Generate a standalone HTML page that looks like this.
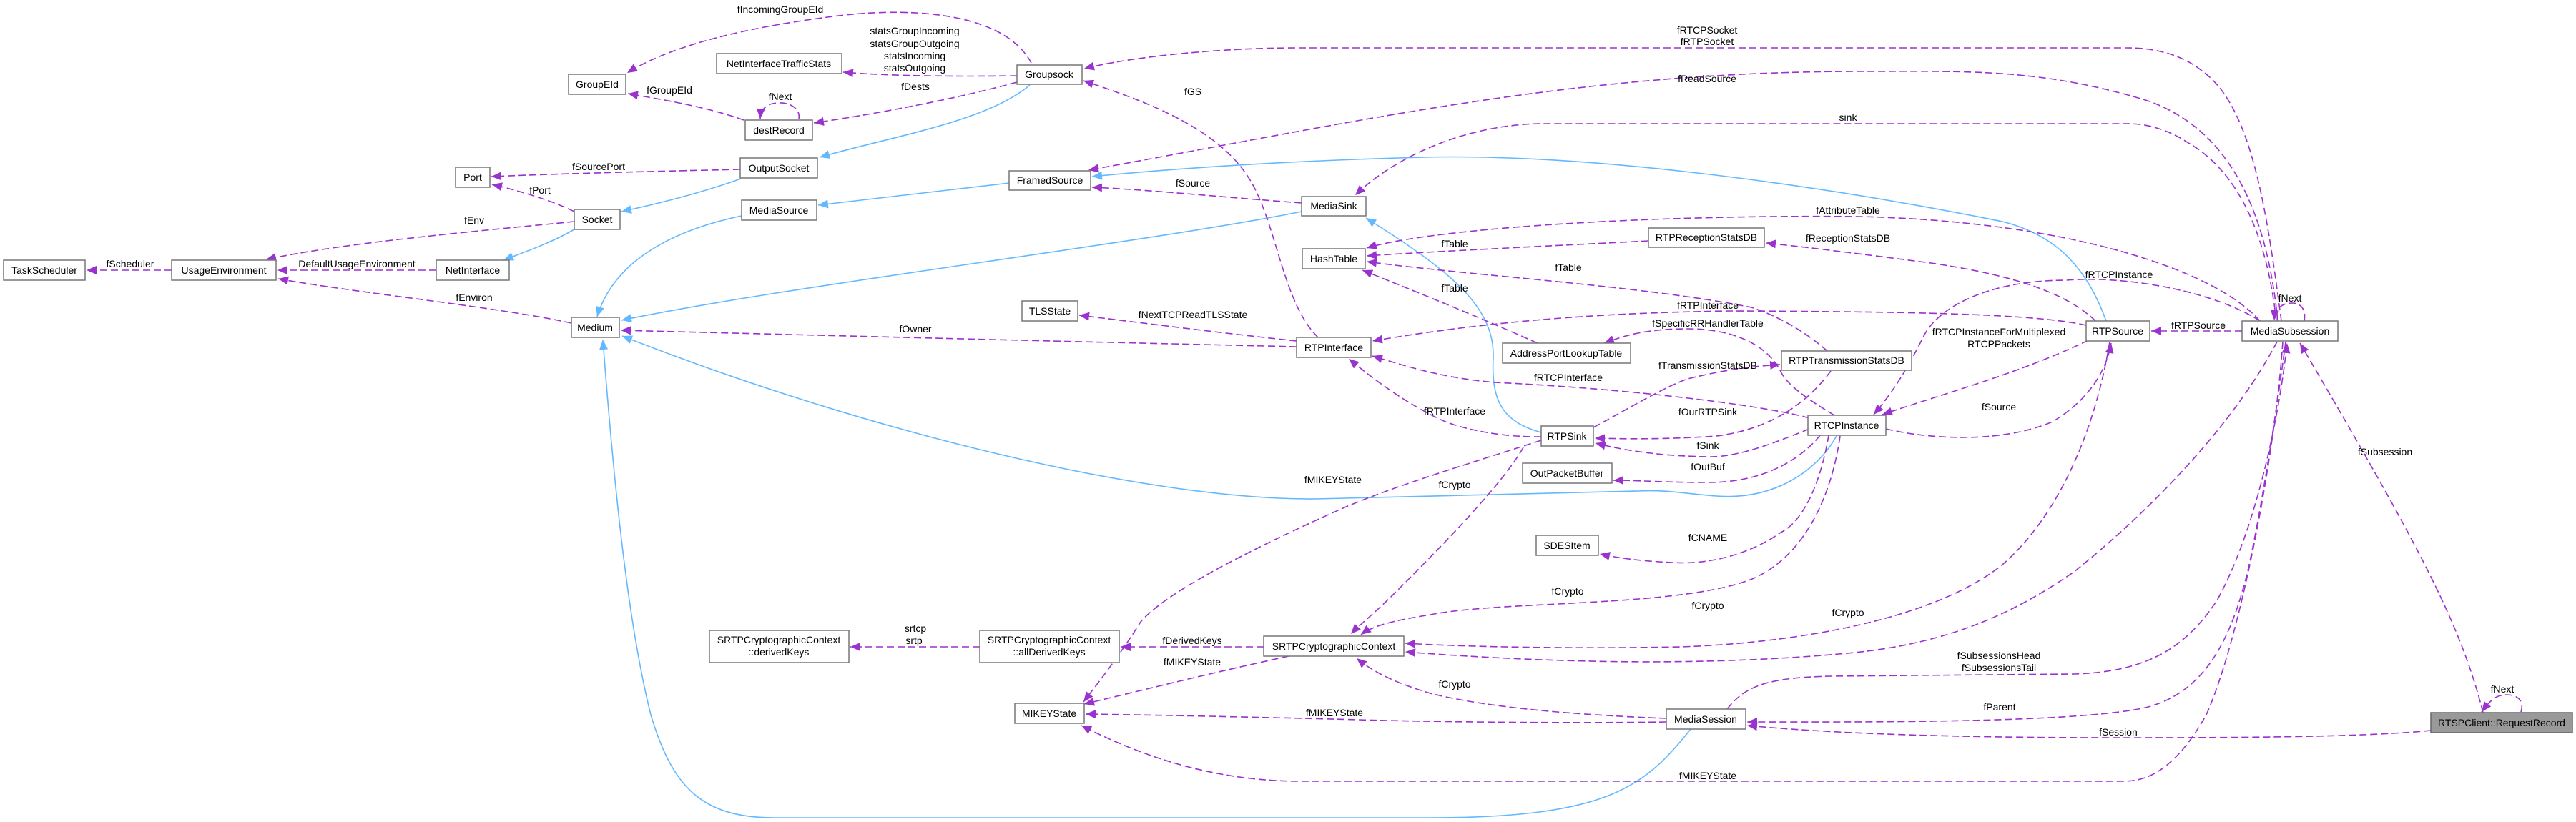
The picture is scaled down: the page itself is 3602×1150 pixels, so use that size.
<!DOCTYPE html>
<html><head><meta charset="utf-8"><style>
html,body{margin:0;padding:0;background:#fff;}
svg{display:block;}
text{font-family:"Liberation Sans",sans-serif;font-size:14px;fill:#000;}
.n{fill:#fff;stroke:#777;stroke-width:1.5;}
.d{fill:none;stroke:#9a32cd;stroke-width:1.6;stroke-dasharray:10,5;}
.b{fill:none;stroke:#63b8ff;stroke-width:1.6;}
</style></head><body>
<svg width="3602" height="1150" viewBox="0 0 3602 1150" xmlns="http://www.w3.org/2000/svg">
<defs>
<marker id="p" markerUnits="userSpaceOnUse" markerWidth="16" markerHeight="12" refX="14" refY="6" orient="auto"><path d="M0,0 L14,6 L0,12 z" fill="#9a32cd"/></marker>
<marker id="q" markerUnits="userSpaceOnUse" markerWidth="16" markerHeight="12" refX="14" refY="6" orient="auto"><path d="M0,0 L14,6 L0,12 z" fill="#63b8ff"/></marker>
</defs>

<g class="b">
<path marker-end="url(#q)" d="M1440,119 C1380,170 1250,190 1146,220"/>
<path marker-end="url(#q)" d="M1036,250 C980,270 920,285 869,296"/>
<path marker-end="url(#q)" d="M803,321 C770,340 735,352 704,364"/>
<path marker-end="url(#q)" d="M1411,256 L1144,287"/>
<path marker-end="url(#q)" d="M1037,302 C950,320 860,360 835,443"/>
<path marker-end="url(#q)" d="M1820,296 C1600,340 1100,400 869,448"/>
<path marker-end="url(#q)" d="M2155,605 C2100,590 2085,560 2088,500 C2090,430 2030,380 1910,305"/>
<path marker-end="url(#q)" d="M2945,449 C2920,380 2880,330 2800,310 C2500,250 2200,215 1990,220 C1800,225 1650,235 1527,247"/>
<path marker-end="url(#q)" d="M2568,610 C2540,660 2480,700 2400,694 C2350,690 2330,685 2290,687 L1840,698 C1600,700 1200,600 870,470"/>
<path marker-end="url(#q)" d="M2364,1020 C2300,1100 2250,1144 2000,1144 L1082,1144 C980,1144 940,1100 910,1000 C880,880 860,700 843,475"/>
</g>

<g class="d">
<path marker-end="url(#p)" d="M1442,88 C1400,10 1250,10 1150,25 C1000,45 920,75 877,102"/>
<path marker-end="url(#p)" d="M1422,106 C1350,107 1250,107 1179,101"/>
<path marker-end="url(#p)" d="M1422,115 C1330,140 1220,160 1138,172"/>
<path marker-end="url(#p)" d="M1040,168 C990,150 930,140 878,131"/>
<path marker-end="url(#p)" d="M1117,166 C1120,150 1100,143 1090,144 C1075,144 1064,150 1063,166"/>
<path marker-end="url(#p)" d="M1035,237 C900,240 780,243 687,247"/>
<path marker-end="url(#p)" d="M803,296 C770,280 730,268 688,258"/>
<path marker-end="url(#p)" d="M803,310 C650,325 480,340 372,363"/>
<path marker-end="url(#p)" d="M610,378 L388,378"/>
<path marker-end="url(#p)" d="M240,378 L121,378"/>
<path marker-end="url(#p)" d="M799,452 C700,430 500,410 389,390"/>
<path marker-end="url(#p)" d="M1820,284 C1700,275 1600,265 1527,262"/>
<path marker-end="url(#p)" d="M1843,472 C1790,420 1785,300 1740,240 C1690,170 1580,135 1515,113"/>
<path marker-end="url(#p)" d="M1813,477 C1700,465 1600,452 1509,441"/>
<path marker-end="url(#p)" d="M1813,485 C1500,478 1100,468 868,462"/>
<path marker-end="url(#p)" d="M3190,449 C3170,300 3150,150 3080,100 C3050,75 3010,67 2975,67 L1815,67 C1700,67 1580,80 1516,96"/>
<path marker-end="url(#p)" d="M3185,449 C3170,300 3120,180 3000,140 C2850,95 2750,100 2600,100 C2200,100 1900,170 1522,238"/>
<path marker-end="url(#p)" d="M3183,449 C3170,330 3130,240 3060,200 C3030,180 3000,173 2975,173 L2160,173 C2050,173 1950,220 1895,273"/>
<path marker-end="url(#p)" d="M3160,449 C3100,380 2900,310 2600,303 C2300,300 2000,320 1911,347"/>
<path marker-end="url(#p)" d="M2305,337 C2150,345 2000,352 1911,358"/>
<path marker-end="url(#p)" d="M2930,449 C2880,400 2780,380 2700,368 C2600,355 2520,345 2469,340"/>
<path marker-end="url(#p)" d="M2555,491 C2520,460 2480,440 2449,430 C2300,400 2050,385 1911,366"/>
<path marker-end="url(#p)" d="M2150,480 C2060,440 1960,400 1905,378"/>
<path marker-end="url(#p)" d="M2917,455 C2850,440 2700,436 2420,435 C2200,438 2050,455 1919,477"/>
<path marker-end="url(#p)" d="M2565,581 C2530,560 2500,540 2490,520 C2470,480 2420,460 2360,460 C2300,460 2270,470 2243,480"/>
<path marker-end="url(#p)" d="M2228,598 C2280,570 2330,540 2360,530 C2420,515 2460,512 2489,510"/>
<path marker-end="url(#p)" d="M2530,585 C2480,570 2300,545 2090,535 C2010,528 1960,510 1919,498"/>
<path marker-end="url(#p)" d="M2155,611 C2100,612 2040,600 2010,585 C1960,560 1920,530 1886,502"/>
<path marker-end="url(#p)" d="M2560,519 C2530,560 2480,600 2400,610 C2330,615 2270,614 2230,613"/>
<path marker-end="url(#p)" d="M2530,600 C2480,620 2430,640 2388,639 C2320,638 2270,630 2231,620"/>
<path marker-end="url(#p)" d="M2545,609 C2520,640 2470,675 2388,675 C2330,675 2290,672 2256,672"/>
<path marker-end="url(#p)" d="M2557,609 C2545,680 2520,730 2490,745 C2440,780 2380,790 2340,787 C2290,785 2260,780 2237,775"/>
<path marker-end="url(#p)" d="M2573,610 C2560,700 2520,780 2450,810 C2350,850 2100,840 2000,860 C1950,868 1920,875 1903,888"/>
<path marker-end="url(#p)" d="M2950,478 C2930,600 2880,720 2800,790 C2700,870 2500,900 2350,905 C2200,908 2050,905 1965,900"/>
<path marker-end="url(#p)" d="M3184,478 C3120,600 3000,720 2900,800 C2800,870 2700,905 2571,915 C2400,930 2200,930 1965,912"/>
<path marker-end="url(#p)" d="M2637,600 C2700,615 2800,620 2870,590 C2920,560 2945,520 2952,480"/>
<path marker-end="url(#p)" d="M3160,449 C3100,410 2980,385 2890,392 C2780,392 2710,430 2690,470 C2670,510 2650,545 2620,580"/>
<path marker-end="url(#p)" d="M2920,476 C2830,520 2720,550 2632,580"/>
<path marker-end="url(#p)" d="M3135,463 L3008,463"/>
<path marker-end="url(#p)" d="M3222,449 C3225,430 3215,424 3205,424 C3190,424 3181,432 3180,448"/>
<path marker-end="url(#p)" d="M3196,478 C3180,600 3160,720 3145,790 C3120,900 3080,970 3000,990 C2900,1012 2600,1010 2443,1010"/>
<path marker-end="url(#p)" d="M2415,992 C2440,960 2470,948 2560,946 L2900,943 C3010,940 3060,900 3100,840 C3150,750 3185,600 3198,480"/>
<path marker-end="url(#p)" d="M3192,478 C3180,650 3130,900 3085,1000 C3040,1080 3000,1093 2969,1093 L1820,1093 C1700,1093 1600,1060 1512,1015"/>
<path marker-end="url(#p)" d="M2330,1010 C2200,1012 2000,1010 1900,1007 C1750,1003 1600,1000 1518,999"/>
<path marker-end="url(#p)" d="M2330,1005 C2200,1000 2080,990 2000,970 C1950,955 1920,940 1897,921"/>
<path marker-end="url(#p)" d="M1767,905 L1567,905"/>
<path marker-end="url(#p)" d="M1370,905 L1189,905"/>
<path marker-end="url(#p)" d="M1802,918 C1700,940 1600,965 1516,985"/>
<path marker-end="url(#p)" d="M2155,616 C2050,650 1950,680 1880,710 C1700,790 1620,840 1595,870 C1570,910 1540,950 1515,982"/>
<path marker-end="url(#p)" d="M2130,626 C2100,680 2000,780 1950,830 C1920,860 1900,875 1889,887"/>
<path marker-end="url(#p)" d="M3472,997 C3440,870 3380,760 3216,480"/>
<path marker-end="url(#p)" d="M3525,996 C3530,980 3520,972 3505,972 C3490,972 3482,980 3470,996"/>
<path marker-end="url(#p)" d="M3399,1022 C3300,1032 3100,1032 2960,1032 C2700,1032 2550,1025 2443,1015"/>
</g>

<g>
<rect class="n" x="795" y="104" width="80" height="28"/>
<rect class="n" x="637" y="234" width="48" height="28"/>
<rect class="n" x="803" y="293" width="64" height="28"/>
<rect class="n" x="5" y="364" width="114" height="28"/>
<rect class="n" x="240" y="364" width="146" height="28"/>
<rect class="n" x="610" y="364" width="102" height="28"/>
<rect class="n" x="1002" y="75" width="175" height="28"/>
<rect class="n" x="1422" y="91" width="91" height="27"/>
<rect class="n" x="1042" y="168" width="94" height="28"/>
<rect class="n" x="1035" y="221" width="108" height="28"/>
<rect class="n" x="1411" y="239" width="114" height="27"/>
<rect class="n" x="1037" y="280" width="105" height="28"/>
<rect class="n" x="799" y="444" width="67" height="28"/>
<rect class="n" x="1429" y="421" width="78" height="28"/>
<rect class="n" x="1813" y="472" width="104" height="28"/>
<rect class="n" x="1820" y="275" width="90" height="27"/>
<rect class="n" x="1821" y="348" width="88" height="28"/>
<rect class="n" x="2305" y="319" width="162" height="27"/>
<rect class="n" x="2101" y="480" width="179" height="28"/>
<rect class="n" x="2491" y="491" width="182" height="27"/>
<rect class="n" x="2917" y="449" width="89" height="28"/>
<rect class="n" x="3135" y="449" width="134" height="28"/>
<rect class="n" x="2528" y="581" width="109" height="28"/>
<rect class="n" x="2155" y="596" width="73" height="28"/>
<rect class="n" x="2129" y="648" width="125" height="28"/>
<rect class="n" x="2148" y="749" width="87" height="28"/>
<rect class="n" x="1767" y="890" width="196" height="28"/>
<rect class="n" x="1370" y="882" width="195" height="45"/>
<rect class="n" x="992" y="882" width="195" height="45"/>
<rect class="n" x="1419" y="984" width="97" height="28"/>
<rect class="n" x="2330" y="992" width="111" height="28"/>
<rect x="3399" y="997" width="198" height="28" fill="#999" stroke="#666" stroke-width="1.5"/>
</g>

<g text-anchor="middle">
<text x="835" y="123">GroupEId</text>
<text x="661" y="253">Port</text>
<text x="835" y="312">Socket</text>
<text x="62" y="383">TaskScheduler</text>
<text x="313" y="383">UsageEnvironment</text>
<text x="661" y="383">NetInterface</text>
<text x="1089" y="94">NetInterfaceTrafficStats</text>
<text x="1467" y="109">Groupsock</text>
<text x="1089" y="187">destRecord</text>
<text x="1089" y="240">OutputSocket</text>
<text x="1468" y="257">FramedSource</text>
<text x="1089" y="299">MediaSource</text>
<text x="832" y="463">Medium</text>
<text x="1468" y="440">TLSState</text>
<text x="1865" y="491">RTPInterface</text>
<text x="1865" y="293">MediaSink</text>
<text x="1865" y="367">HashTable</text>
<text x="2386" y="337">RTPReceptionStatsDB</text>
<text x="2190" y="499">AddressPortLookupTable</text>
<text x="2582" y="509">RTPTransmissionStatsDB</text>
<text x="2961" y="468">RTPSource</text>
<text x="3202" y="468">MediaSubsession</text>
<text x="2582" y="600">RTCPInstance</text>
<text x="2191" y="615">RTPSink</text>
<text x="2191" y="667">OutPacketBuffer</text>
<text x="2191" y="768">SDESItem</text>
<text x="1865" y="909">SRTPCryptographicContext</text>
<text x="1467" y="900">SRTPCryptographicContext</text>
<text x="1467" y="917">::allDerivedKeys</text>
<text x="1089" y="900">SRTPCryptographicContext</text>
<text x="1089" y="917">::derivedKeys</text>
<text x="1467" y="1003">MIKEYState</text>
<text x="2385" y="1011">MediaSession</text>
<text x="3498" y="1016">RTSPClient::RequestRecord</text>

<text x="1091" y="18">fIncomingGroupEId</text>
<text x="1279" y="48">statsGroupIncoming</text>
<text x="1279" y="66">statsGroupOutgoing</text>
<text x="1279" y="83">statsIncoming</text>
<text x="1279" y="100">statsOutgoing</text>
<text x="1280" y="126">fDests</text>
<text x="936" y="131">fGroupEId</text>
<text x="1091" y="140">fNext</text>
<text x="1668" y="133">fGS</text>
<text x="1668" y="261">fSource</text>
<text x="837" y="238">fSourcePort</text>
<text x="755" y="271">fPort</text>
<text x="663" y="313">fEnv</text>
<text x="182" y="374">fScheduler</text>
<text x="499" y="374">DefaultUsageEnvironment</text>
<text x="663" y="421">fEnviron</text>
<text x="1668" y="445">fNextTCPReadTLSState</text>
<text x="1280" y="465">fOwner</text>
<text x="2387" y="47">fRTCPSocket</text>
<text x="2387" y="63">fRTPSocket</text>
<text x="2387" y="115">fReadSource</text>
<text x="2584" y="169">sink</text>
<text x="2584" y="299">fAttributeTable</text>
<text x="2034" y="346">fTable</text>
<text x="2584" y="338">fReceptionStatsDB</text>
<text x="2193" y="379">fTable</text>
<text x="2034" y="408">fTable</text>
<text x="2388" y="432">fRTPInterface</text>
<text x="2388" y="457">fSpecificRRHandlerTable</text>
<text x="2388" y="516">fTransmissionStatsDB</text>
<text x="2193" y="533">fRTCPInterface</text>
<text x="2963" y="389">fRTCPInstance</text>
<text x="3202" y="422">fNext</text>
<text x="3074" y="460">fRTPSource</text>
<text x="2795" y="469">fRTCPInstanceForMultiplexed</text>
<text x="2795" y="486">RTCPPackets</text>
<text x="2795" y="574">fSource</text>
<text x="3335" y="637">fSubsession</text>
<text x="2034" y="580">fRTPInterface</text>
<text x="2388" y="581">fOurRTPSink</text>
<text x="2388" y="628">fSink</text>
<text x="2388" y="658">fOutBuf</text>
<text x="1864" y="676">fMIKEYState</text>
<text x="2034" y="683">fCrypto</text>
<text x="2388" y="757">fCNAME</text>
<text x="2192" y="832">fCrypto</text>
<text x="2388" y="852">fCrypto</text>
<text x="2584" y="862">fCrypto</text>
<text x="2795" y="922">fSubsessionsHead</text>
<text x="2795" y="939">fSubsessionsTail</text>
<text x="2034" y="962">fCrypto</text>
<text x="2796" y="994">fParent</text>
<text x="2962" y="1029">fSession</text>
<text x="2388" y="1090">fMIKEYState</text>
<text x="3499" y="969">fNext</text>
<text x="1280" y="884">srtcp</text>
<text x="1278" y="901">srtp</text>
<text x="1667" y="901">fDerivedKeys</text>
<text x="1667" y="931">fMIKEYState</text>
<text x="1866" y="1002">fMIKEYState</text>
</g>
</svg>
</body></html>
